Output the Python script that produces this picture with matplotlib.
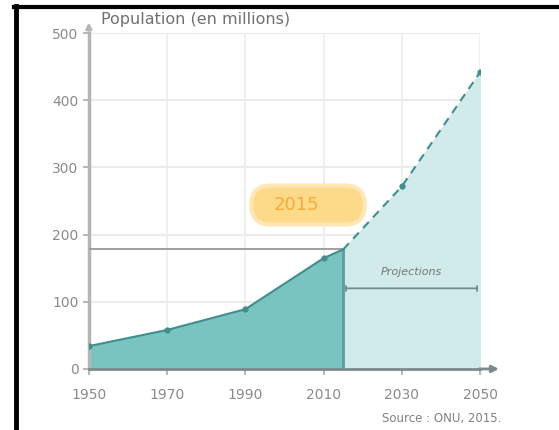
import numpy as np
import matplotlib.pyplot as plt
from matplotlib.patches import FancyBboxPatch

years = [1950, 1970, 1990, 2010, 2015, 2030, 2050]
population = [34, 58, 89, 165, 178, 272, 442]
x_ticks = [1950, 1970, 1990, 2010, 2030, 2050]
y_ticks = [0, 100, 200, 300, 400, 500]
cut_year = 2015

yrs = np.array(years)
pop = np.array(population)
past = yrs <= cut_year
future = yrs >= cut_year

fig = plt.figure(figsize=(5.59, 4.30), dpi=100)
ax = fig.add_axes([0.159, 0.142, 0.700, 0.781])
ax.set_xlim(1950, 2050)
ax.set_ylim(0, 500)

# grille
for yt in y_ticks[1:]:
    ax.axhline(yt, color='#e8e8e8', lw=1.2, zorder=0)
for xt in x_ticks[1:]:
    ax.axvline(xt, color='#ececec', lw=1.2, zorder=0)

# aires
ax.fill_between(yrs[future], pop[future], color='#d1eaea', zorder=1)
ax.fill_between(yrs[past], pop[past], color='#79c4c1', zorder=2)
ax.plot([cut_year, cut_year], [0, pop[yrs == cut_year][0]], color='#5f9d9b', lw=2, zorder=3)

# courbe
ax.plot(yrs[past], pop[past], color='#3f8f8c', lw=1.5, zorder=4)
ax.plot(yrs[future], pop[future], color='#3f8f8c', lw=1.5, ls=(0, (4, 3)), zorder=4)
ax.plot(yrs[[0, 1, 2, 3, 5, 6]], pop[[0, 1, 2, 3, 5, 6]], 'o', color='#3f8f8c', ms=3.5, zorder=5)

# repère 2015
y2015 = pop[yrs == cut_year][0]
ax.plot([1950, cut_year], [y2015, y2015], color='#999999', lw=1.3, zorder=3)
box = FancyBboxPatch((1991.5, 215), 29, 58, boxstyle='round,pad=0,rounding_size=5',
                     mutation_aspect=5.8, fc='#fdd98a', ec='#fee7b5', lw=3, zorder=6)
ax.add_patch(box)
ax.text(2003, 244, '2015', ha='center', va='center', color='#f2ad33', fontsize=13, zorder=7)

# projections
ax.annotate('', xy=(2050, 120), xytext=(cut_year, 120),
            arrowprops=dict(arrowstyle='|-|', color='#6f8d8c', lw=1.3, mutation_scale=2), zorder=6)
ax.text(2032.5, 145, 'Projections', ha='center', va='center', color='#777777',
        fontsize=8, style='italic', zorder=6)

# axes
for s in ['top', 'right']:
    ax.spines[s].set_visible(False)
ax.spines['left'].set_color('#b5b5b5')
ax.spines['left'].set_linewidth(2.5)
ax.spines['bottom'].set_color('#7d8a8a')
ax.spines['bottom'].set_linewidth(2)
ax.annotate('', xy=(2055.5, 0), xytext=(2049, 0), xycoords='data',
            arrowprops=dict(arrowstyle='-|>', color='#7d8a8a', lw=2, mutation_scale=10),
            annotation_clip=False)
ax.annotate('', xy=(1950, 520), xytext=(1950, 500),
            arrowprops=dict(arrowstyle='-|>', color='#b5b5b5', lw=2, mutation_scale=8),
            annotation_clip=False)
ax.text(1953, 521, 'Population (en millions)', ha='left', va='center', color='#707070',
        fontsize=11.5, clip_on=False)

ax.set_xticks(x_ticks)
ax.set_yticks(y_ticks)
ax.tick_params(axis='both', colors='#aaaaaa', labelcolor='#8a8a8a', labelsize=10, length=4, width=1.2)
ax.tick_params(axis='x', pad=10)

fig.text(0.897, 0.027, 'Source : ONU, 2015.', ha='right', va='center', color='#808080', fontsize=8.5)

# cadre noir à gauche et en haut
fig.add_artist(plt.Line2D([0.028, 0.028], [0, 0.985], color='black', lw=3.5))
fig.add_artist(plt.Line2D([0.025, 1], [0.983, 0.983], color='black', lw=3))

fig.savefig('out.png', dpi=100)
